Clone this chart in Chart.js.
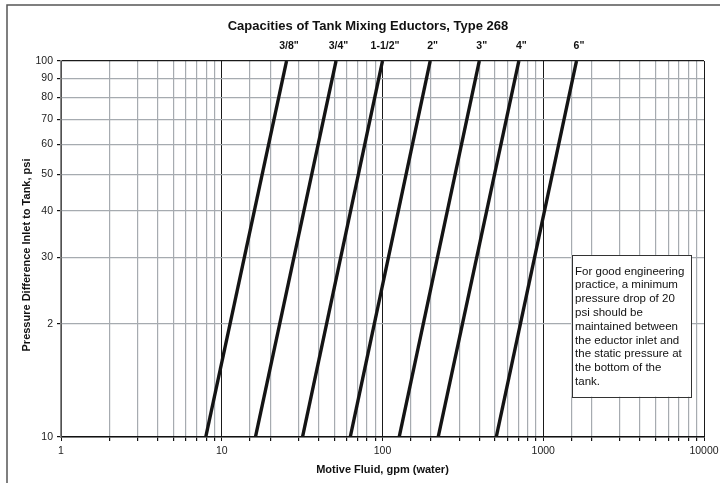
<!DOCTYPE html>
<html><head><meta charset="utf-8">
<script src="https://cdn.jsdelivr.net/npm/chart.js@4/dist/chart.umd.min.js"></script>
<style>html,body{margin:0;padding:0;background:#fff}#wrap{width:720px;height:483px;position:relative}</style>
</head><body><div id="wrap"><canvas id="c" width="720" height="483"></canvas></div>
<script>
// ---- data ----
const chartTitle = 'Capacities of Tank Mixing Eductors, Type 268';
const xTitle = 'Motive Fluid, gpm (water)';
const yTitle = 'Pressure Difference Inlet to Tank, psi';
const sizes = ['3/8"', '3/4"', '1-1/2"', '2"', '3"', '4"', '6"'];
const pressureLow = 10;
const pressureHigh = 100;
const flowAtLow = [7.95, 16.2, 31.8, 63, 127, 222, 510];
const flowAtHigh = [25.3, 51.4, 100, 198, 400, 705, 1610];
const xTickLabels = ['1', '10', '100', '1000', '10000'];
const yTickValues = [10, 20, 30, 40, 50, 60, 70, 80, 90, 100];
const yTickLabels = ['10', '2', '30', '40', '50', '60', '70', '80', '90', '100'];
const noteLines = ['For good engineering', 'practice, a minimum', 'pressure drop of 20', 'psi should be',
  'maintained between', 'the eductor inlet and', 'the static pressure at', 'the bottom of the', 'tank.'];
const noteX = [1500, 8300];
const noteY = [30.5, 12.8];

const FONT = '"Liberation Sans", Arial, sans-serif';
const GRID = '#a6abb0';
const DARK = '#1a1a1a';

const datasets = sizes.map((s, i) => ({
  label: s,
  data: [{x: flowAtLow[i], y: pressureLow}, {x: flowAtHigh[i], y: pressureHigh}],
  borderColor: '#141414',
  borderWidth: 3.4,
  pointRadius: 0,
  fill: false,
  tension: 0
}));

const isDecade = v => Math.abs(Math.log10(v) - Math.round(Math.log10(v))) < 1e-9;

const deco = {
  id: 'deco',
  beforeDraw(chart) {
    const ctx = chart.ctx;
    ctx.save();
    ctx.fillStyle = '#fff';
    ctx.fillRect(0, 0, chart.width, chart.height);
    ctx.strokeStyle = '#555';
    ctx.lineWidth = 1.5;
    ctx.beginPath();
    ctx.moveTo(7, chart.height + 2);
    ctx.lineTo(7, 5);
    ctx.lineTo(chart.width + 2, 5);
    ctx.stroke();
    ctx.restore();
  },
  afterDatasetsDraw(chart) {
    const ctx = chart.ctx;
    const xs = chart.scales.x, ys = chart.scales.y;
    ctx.save();
    // title
    ctx.fillStyle = '#111';
    ctx.font = 'bold 13px ' + FONT;
    ctx.textAlign = 'center';
    ctx.textBaseline = 'middle';
    ctx.fillText(chartTitle, 368, 26);
    // size labels above the line tops
    ctx.font = 'bold 10.5px ' + FONT;
    sizes.forEach((s, i) => {
      const px = xs.getPixelForValue(flowAtHigh[i]) + 2.5;
      ctx.fillText(s, px, chart.chartArea.top - 15);
    });
    // y axis title
    ctx.save();
    ctx.translate(26.5, (chart.chartArea.top + chart.chartArea.bottom) / 2 + 6);
    ctx.rotate(-Math.PI / 2);
    ctx.font = 'bold 11px ' + FONT;
    ctx.fillText(yTitle, 0, 0);
    ctx.restore();
    // note box
    const l = xs.getPixelForValue(noteX[0]), r = xs.getPixelForValue(noteX[1]);
    const t = ys.getPixelForValue(noteY[0]), b = ys.getPixelForValue(noteY[1]);
    ctx.fillStyle = '#fff';
    ctx.fillRect(l, t, r - l, b - t);
    ctx.strokeStyle = '#333';
    ctx.lineWidth = 1;
    ctx.strokeRect(Math.round(l) + 0.5, Math.round(t) + 0.5, Math.round(r - l), Math.round(b - t));
    ctx.fillStyle = '#111';
    ctx.font = '11.5px ' + FONT;
    ctx.textAlign = 'left';
    ctx.textBaseline = 'middle';
    noteLines.forEach((line, k) => ctx.fillText(line, l + 3.5, t + 16.5 + k * 13.8));
    ctx.restore();
  }
};

new Chart(document.getElementById('c'), {
  type: 'line',
  data: { datasets },
  options: {
    responsive: false,
    animation: false,
    events: [],
    layout: { padding: { top: 61, left: 0, right: 16, bottom: 0 } },
    plugins: { legend: { display: false }, tooltip: { enabled: false }, title: { display: false } },
    scales: {
      x: {
        type: 'logarithmic',
        position: 'bottom',
        min: 1, max: 10000,
        afterFit(scale) { scale.height = 46; scale.paddingRight = 0; scale.paddingLeft = 0; },
        grid: {
          color: ctx => (ctx.tick && isDecade(ctx.tick.value) ? DARK : GRID),
          lineWidth: ctx => (ctx.tick && isDecade(ctx.tick.value) ? 1 : 1.2),
          tickLength: 4,
          tickColor: '#111'
        },
        border: { color: '#111', width: 1.5 },
        ticks: {
          autoSkip: false, maxRotation: 0, minRotation: 0, padding: 4,
          color: '#222', font: { family: FONT, size: 10.5 },
          callback: v => (xTickLabels.includes(String(v)) ? String(v) : '')
        },
        title: {
          display: true, text: xTitle, color: '#111',
          font: { family: FONT, size: 11, weight: 'bold' },
          padding: { top: 0, bottom: 6 }
        }
      },
      y: {
        type: 'logarithmic',
        position: 'left',
        min: 10, max: 100,
        afterFit(scale) { scale.width = 61; scale.paddingTop = 0; scale.paddingBottom = 0; },
        afterBuildTicks(scale) { scale.ticks = yTickValues.map(v => ({ value: v })); },
        grid: {
          color: ctx => (ctx.tick && ctx.tick.value === 100 ? DARK : GRID),
          lineWidth: 1.2,
          tickLength: 4,
          tickColor: '#111'
        },
        border: { color: '#888', width: 1.5 },
        ticks: {
          autoSkip: false, padding: 4,
          color: '#222', font: { family: FONT, size: 10.5 },
          callback: v => { const i = yTickValues.indexOf(v); return i >= 0 ? yTickLabels[i] : ''; }
        }
      }
    }
  },
  plugins: [deco]
});
</script>
</body></html>
